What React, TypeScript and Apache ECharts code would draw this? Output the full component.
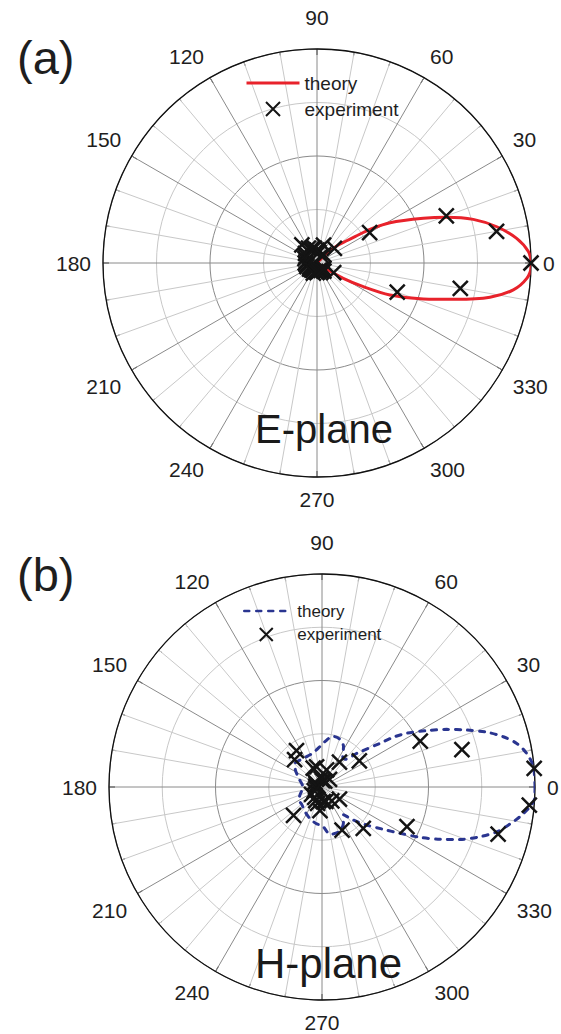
import React, { useEffect, useRef } from 'react';
import * as echarts from 'echarts';

// ---------- data (a) E-plane ----------
const theoryAAngle = [60, 45, 40.2, 34.7, 32.4, 28.9, 22.8, 19.4, 15.6, 11.4, 7.05, 3.1, 0, -1.1, -4.2, -7.8, -11.2, -14.6, -18.7, -23.7, -27.1, -30.2, -33.5, -60];
const theoryARadius = [0, 0.06, 0.13, 0.216, 0.293, 0.39, 0.539, 0.643, 0.758, 0.857, 0.94, 0.989, 1.0, 1.0, 0.983, 0.926, 0.824, 0.674, 0.524, 0.372, 0.243, 0.142, 0.045, 0];

const expAAngle = [0, 10, 20, 30, 40, 50, 60, 70, 80, 90, 100, 110, 120, 130, 140, 150, 160, 170, 180, 190, 200, 210, 220, 230, 240, 250, 260, 270, 280, 290, 300, 310, 320, 330, 340, 350];
const expARadius = [1.0, 0.852, 0.643, 0.284, 0.106, 0.05, 0.04, 0.089, 0.05, 0.06, 0.07, 0.07, 0.08, 0.11, 0.07, 0.06, 0.06, 0.05, 0.055, 0.05, 0.05, 0.04, 0.045, 0.04, 0.04, 0.05, 0.04, 0.045, 0.04, 0.035, 0.04, 0.05, 0.04, 0.09, 0.399, 0.68];

// ---------- data (b) H-plane ----------
const theoryBAngle = [0, 5.5, 9.3, 12.6, 15.5, 18.4, 21.5, 24.8, 28.3, 32.4, 34.9, 37, 44, 50, 55, 62, 70, 78, 86, 93, 105, 115, 123, 132, 139, 146, 160, 180, 200, 209, 220, 235, 250, 262, 270, 280, 290, 300, 308, 313.5, 319.6, 325.4, 329.3, 332.8, 336.1, 339.2, 342.5, 345.6, 348.9, 351.5, 354.6, 357, 360];
const theoryBRadius = [1.0, 0.997, 0.974, 0.937, 0.883, 0.815, 0.73, 0.645, 0.558, 0.471, 0.408, 0.341, 0.227, 0.17, 0.17, 0.215, 0.24, 0.243, 0.215, 0.19, 0.165, 0.16, 0.16, 0.165, 0.168, 0.152, 0.115, 0.09, 0.11, 0.125, 0.125, 0.14, 0.16, 0.175, 0.18, 0.225, 0.225, 0.2, 0.165, 0.214, 0.275, 0.35, 0.426, 0.517, 0.606, 0.693, 0.777, 0.847, 0.9, 0.94, 0.981, 1.0, 1.0];

const expBAngle = [5, 15, 25, 35, 45, 55, 65, 75, 85, 95, 105, 115, 125, 135, 145, 155, 165, 175, 185, 195, 205, 215, 225, 235, 245, 255, 265, 275, 285, 295, 305, 315, 325, 335, 345, 355];
const expBRadius = [1.0, 0.68, 0.509, 0.214, 0.05, 0.143, 0.03, 0.083, 0.03, 0.04, 0.098, 0.098, 0.209, 0.182, 0.04, 0.03, 0.02, 0.03, 0.02, 0.03, 0.04, 0.06, 0.189, 0.06, 0.07, 0.08, 0.111, 0.069, 0.07, 0.223, 0.08, 0.274, 0.1, 0.44, 0.856, 0.977];

const FONT = '"Liberation Sans", Arial, Helvetica, sans-serif';
const CROSS = 'path://M0,0L10,10M10,0L0,10';

const pairs = (r: number[], a: number[]) => r.map((v, i) => [v, a[i]]);

const angleAxis = (polarIndex: number) => ({
  polarIndex,
  type: 'value',
  min: 0,
  max: 360,
  interval: 30,
  startAngle: 0,
  clockwise: false,
  axisLine: { show: true, lineStyle: { color: '#111', width: 1.3 } },
  axisTick: { show: true, inside: true, length: 6, lineStyle: { color: '#111', width: 1 } },
  minorTick: { show: true, splitNumber: 3, length: 4, lineStyle: { color: '#111', width: 1 } },
  axisLabel: {
    show: true,
    margin: 12,
    fontSize: 21,
    color: '#1e1e1e',
    fontFamily: FONT,
    formatter: (v: number) => (v === 360 ? '' : v === 90 ? '{top|90}' : String(v)),
    rich: {
      top: { fontSize: 21, fontFamily: FONT, color: '#1e1e1e', padding: [0, 0, 9, 0] },
    },
  },
  splitLine: { show: true, lineStyle: { color: '#8a8a8a', width: 1 } },
  minorSplitLine: { show: true, lineStyle: { color: '#c8c8c8', width: 1 } },
});

const radiusAxis = (polarIndex: number) => ({
  polarIndex,
  type: 'value',
  min: 0,
  max: 1,
  interval: 0.5,
  axisLine: { show: false },
  axisTick: { show: false },
  axisLabel: { show: false },
  minorTick: { show: false, splitNumber: 2 },
  splitLine: { show: true, lineStyle: { color: '#8a8a8a', width: 1 } },
  minorSplitLine: { show: true, lineStyle: { color: '#c8c8c8', width: 1 } },
});

const crossStyle = { color: 'rgba(0,0,0,0)', borderColor: '#141414', borderWidth: 2.5, opacity: 1 };

export default function App() {
  const ref = useRef<HTMLDivElement>(null);
  useEffect(() => {
    if (!ref.current) return;
    const chart = echarts.init(ref.current, undefined, { renderer: 'svg' });
    chart.setOption({
      animation: false,
      backgroundColor: '#ffffff',
      polar: [
        { center: [317, 263], radius: 214 },
        { center: [322, 787], radius: 213 },
      ],
      angleAxis: [angleAxis(0), angleAxis(1)],
      radiusAxis: [radiusAxis(0), radiusAxis(1)],
      legend: [
        {
          data: [{ name: 'theory-a', itemStyle: { opacity: 0 } }, 'experiment-a'],
          orient: 'vertical',
          left: 245,
          top: 72,
          padding: 0,
          itemWidth: 53,
          itemHeight: 14,
          itemGap: 4,
          selectedMode: false,
          formatter: (n: string) => n.split('-')[0],
          textStyle: { fontSize: 19, lineHeight: 22, fontFamily: FONT, color: '#1e1e1e' },
          lineStyle: { width: 3 },
        },
        {
          data: [{ name: 'theory-b', itemStyle: { opacity: 0 } }, 'experiment-b'],
          orient: 'vertical',
          left: 243,
          top: 601,
          padding: 0,
          itemWidth: 44,
          itemHeight: 13,
          itemGap: 3.5,
          selectedMode: false,
          formatter: (n: string) => n.split('-')[0],
          textStyle: { fontSize: 17, lineHeight: 20, fontFamily: FONT, color: '#1e1e1e', padding: [0, 0, 0, 4] },
          lineStyle: { width: 2.5 },
        },
      ],
      graphic: [
        { type: 'text', x: 17, y: 57, style: { text: '(a)', fontSize: 47, fontFamily: FONT, fill: '#1e1e1e', verticalAlign: 'middle', textVerticalAlign: 'middle' } },
        { type: 'text', x: 17, y: 574, style: { text: '(b)', fontSize: 47, fontFamily: FONT, fill: '#1e1e1e', verticalAlign: 'middle', textVerticalAlign: 'middle' } },
        { type: 'text', x: 255, y: 429, z: 10, style: { text: 'E-plane', fontSize: 40, fontFamily: FONT, fill: '#1a1a1a', verticalAlign: 'middle', textVerticalAlign: 'middle' } },
        { type: 'text', x: 255, y: 963, z: 10, style: { text: 'H-plane', fontSize: 42, fontFamily: FONT, fill: '#1a1a1a', verticalAlign: 'middle', textVerticalAlign: 'middle' } },
      ],
      series: [
        {
          name: 'theory-a',
          type: 'line',
          coordinateSystem: 'polar',
          polarIndex: 0,
          data: pairs(theoryARadius, theoryAAngle),
          symbol: 'none',
          smooth: 0.3,
          lineStyle: { color: '#e8222b', width: 3 },
          itemStyle: { color: '#e8222b' },
          z: 3,
        },
        {
          name: 'experiment-a',
          type: 'scatter',
          coordinateSystem: 'polar',
          polarIndex: 0,
          data: pairs(expARadius, expAAngle),
          symbol: CROSS,
          symbolSize: 15,
          itemStyle: crossStyle,
          z: 4,
        },
        {
          name: 'theory-b',
          type: 'line',
          coordinateSystem: 'polar',
          polarIndex: 1,
          data: pairs(theoryBRadius, theoryBAngle),
          symbol: 'none',
          smooth: 0.3,
          lineStyle: { color: '#2a3590', width: 3, type: [5, 7], cap: 'round' },
          itemStyle: { color: '#2a3590' },
          z: 3,
        },
        {
          name: 'experiment-b',
          type: 'scatter',
          coordinateSystem: 'polar',
          polarIndex: 1,
          data: pairs(expBRadius, expBAngle),
          symbol: CROSS,
          symbolSize: 15,
          itemStyle: crossStyle,
          z: 4,
        },
      ],
    });
    return () => chart.dispose();
  }, []);
  return <div ref={ref} style={{ position: 'fixed', left: 0, top: 0, width: 561, height: 1034 }} />;
}
